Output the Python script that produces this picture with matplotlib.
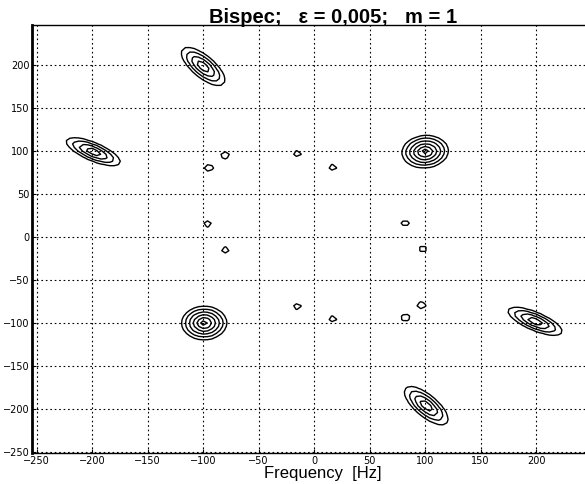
import numpy as np
import matplotlib
matplotlib.use("Agg")
import matplotlib.pyplot as plt

# peaks of the bispectrum (Hz)
peak_f1 = [-100, -199, 100, -99, 199, 101]
peak_f2 = [198, 99, 99, -100, -98, -196]
peak_amp = [9, 9, 28, 28, 9, 9]
peak_long = [9.5, 9.5, 5.2, 5.0, 9.5, 9.5]     # spread along main axis
peak_short = [3.8, 3.4, 4.6, 4.8, 3.4, 3.8]    # spread across it
peak_angle = [-50, -30, 15, 5, -30, -50]       # degrees

# small satellite blobs (one contour each)
small_f1 = [-80, -95, -15, 17, -96, -80, 82, 98, -15, 17, 82, 97]
small_f2 = [95, 80, 97, 81, 15, -15, 16, -14, -81, -95, -94, -79]
small_amp = 0.8
small_spread = 7.0

levels = [0.5, 1, 2, 4, 8, 16]
ticks = [-250, -200, -150, -100, -50, 0, 50, 100, 150, 200]

f1 = np.arange(-256, 250, 4.0)
f2 = np.arange(-256, 250, 4.0)
X, Y = np.meshgrid(f1, f2)
Z = np.zeros_like(X)
for cx, cy, a, sl, ss, ang in zip(peak_f1, peak_f2, peak_amp, peak_long, peak_short, peak_angle):
    t = np.deg2rad(ang)
    u = (X - cx) * np.cos(t) + (Y - cy) * np.sin(t)
    v = -(X - cx) * np.sin(t) + (Y - cy) * np.cos(t)
    Z += a * np.exp(-np.sqrt((u / sl) ** 2 + (v / ss) ** 2))
for cx, cy in zip(small_f1, small_f2):
    Z += small_amp * np.exp(-np.hypot(X - cx, Y - cy) / small_spread)

fig = plt.figure(figsize=(5.85, 4.84), dpi=100)
ax = fig.add_axes([0.055, 0.064, 0.945, 0.884])
ax.contour(X, Y, Z, levels=levels, colors="black", linewidths=1.0)

ax.set_xlim(-254, 244)
ax.set_ylim(-251, 246)
ax.set_xticks(ticks)
ax.set_yticks(ticks)
ax.grid(True, color="black", linestyle=(0, (1.5, 2.5)), linewidth=0.8)
ax.tick_params(direction="in", length=3, labelsize=7, pad=2, colors="black")
ax.spines["right"].set_visible(False)
ax.spines["left"].set_linewidth(2.0)
ax.spines["top"].set_linewidth(1.0)
ax.spines["bottom"].set_linewidth(1.0)

fig.text(0.57, 0.952, "Bispec;   \u03b5 = 0,005;   m = 1", ha="center", va="baseline",
         fontsize=14.5, fontweight="bold", family="Liberation Sans")
fig.text(0.552, 0.012, "Frequency  [Hz]", ha="center", va="baseline",
         fontsize=12, family="Liberation Sans")

fig.savefig("out.png", dpi=100)
